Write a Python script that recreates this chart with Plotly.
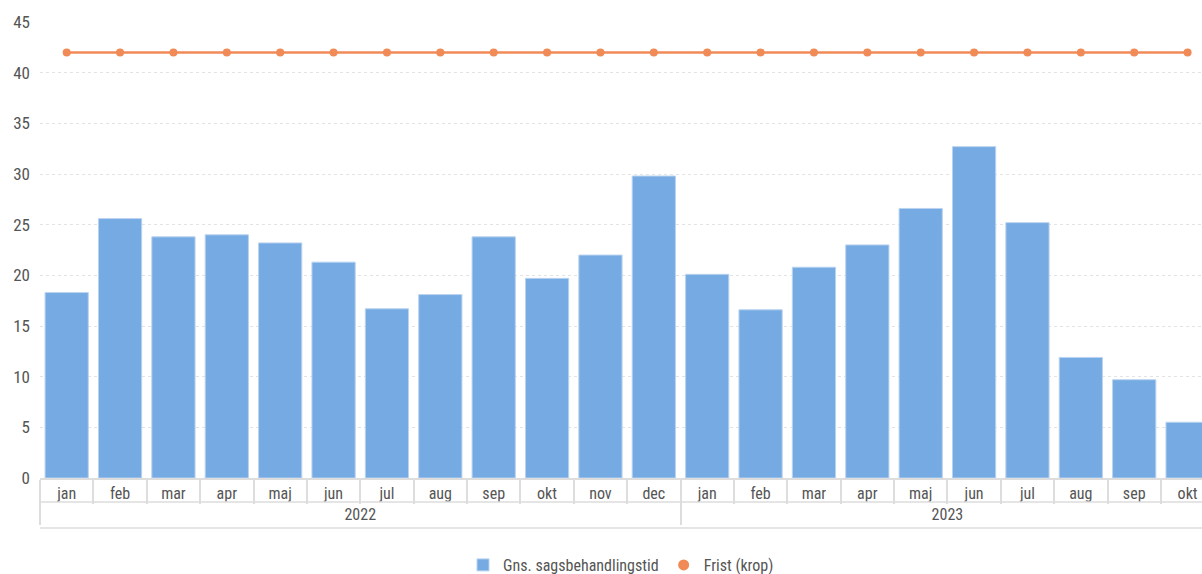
import plotly.graph_objects as go

years = ["2022"] * 12 + ["2023"] * 10
months = ["jan", "feb", "mar", "apr", "maj", "jun", "jul", "aug", "sep", "okt", "nov", "dec",
          "jan", "feb", "mar", "apr", "maj", "jun", "jul", "aug", "sep", "okt"]
sagsbehandlingstid = [18.3, 25.6, 23.8, 24.0, 23.2, 21.3, 16.7, 18.1, 23.8, 19.7, 22.0, 29.8,
                      20.1, 16.6, 20.8, 23.0, 26.6, 32.7, 25.2, 11.9, 9.7, 5.5]
frist = [42] * 22

FONT = "Liberation Sans Narrow, Roboto Condensed, Arial Narrow, DejaVu Sans Condensed, sans-serif"
BAR = "#76aae2"
LINE = "#f08a56"
AXC = "#dddddd"

PLOT_H = 574 - 22 - 96

fig = go.Figure()
fig.add_trace(go.Bar(
    x=[years, months], y=sagsbehandlingstid, name="Gns. sagsbehandlingstid",
    marker=dict(color=BAR, line=dict(color="#b9d3f0", width=1)),
))
fig.add_trace(go.Scatter(
    x=[years, months], y=frist, name="Frist (krop)", mode="lines+markers",
    line=dict(color=LINE, width=2.5), marker=dict(color=LINE, size=8),
    showlegend=False,
))
fig.add_trace(go.Scatter(
    x=[[None], [None]], y=[None], name="Frist (krop)", mode="markers",
    marker=dict(color=LINE, size=11),
))

# horizontal rules of the category label box
for ypx in (24, 50):
    fig.add_shape(type="line", xref="paper", yref="paper", x0=0, x1=1,
                  y0=-ypx / PLOT_H, y1=-ypx / PLOT_H,
                  line=dict(color=AXC, width=1.5))

fig.update_layout(
    width=1202, height=574,
    margin=dict(l=40, r=0, t=22, b=96, autoexpand=False),
    paper_bgcolor="white", plot_bgcolor="white",
    font=dict(family=FONT, size=16, color="#555555"),
    bargap=0.19,
    legend=dict(orientation="h", x=0.5, xanchor="center", yref="container",
                y=1 - 565 / 574, yanchor="middle",
                font=dict(size=16, color="#555555"), itemwidth=30, tracegroupgap=0),
    xaxis=dict(
        type="multicategory", range=[-0.5, 21.27], automargin=False,
        showdividers=True, dividercolor=AXC, dividerwidth=1.5,
        ticks="outside", tickcolor=AXC, ticklen=24, tickwidth=1.5,
        showline=True, linecolor=AXC, linewidth=1.5, showgrid=False,
        tickfont=dict(size=16, color="#555555"),
    ),
    yaxis=dict(
        range=[0, 45], dtick=5, showgrid=True, gridcolor="#e3e3e3", griddash="dot",
        zeroline=False, showline=False, ticks="", ticklabelstandoff=9, automargin=False,
        tickfont=dict(size=17, color="#555555"),
    ),
)

fig.write_html("out.html", config={"displayModeBar": False},
               post_script="document.body.style.margin='0';document.body.style.overflow='hidden';")
